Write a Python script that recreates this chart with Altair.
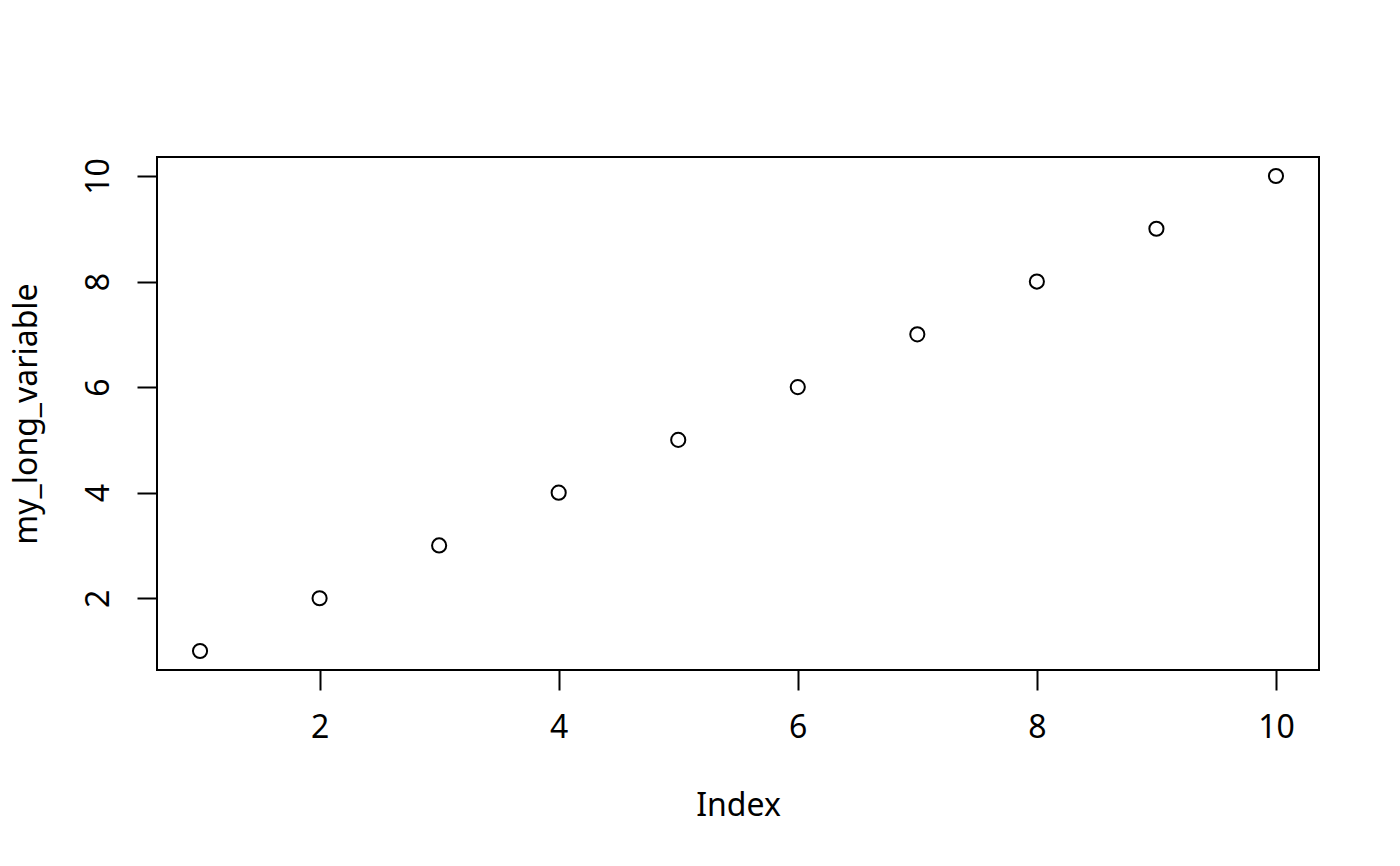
import pandas as pd
import altair as alt

# values as plotted
index = [1, 2, 3, 4, 5, 6, 7, 8, 9, 10]
my_long_variable = [1, 2, 3, 4, 5, 6, 7, 8, 9, 10]
tick_values = [2, 4, 6, 8, 10]

df = pd.DataFrame({'Index': index, 'my_long_variable': my_long_variable})

font = 'Noto Sans'
W, H = 1162, 513

points = alt.Chart(df).mark_point(
    shape='circle', filled=False, color='black', size=200, strokeWidth=2, opacity=1
).encode(
    x=alt.X('Index:Q',
            scale=alt.Scale(domain=[0.64, 10.36], nice=False, zero=False),
            axis=alt.Axis(values=tick_values, grid=False, domain=False,
                          tickSize=20, tickWidth=2, tickColor='black',
                          labelFont=font, labelFontSize=32, labelColor='black',
                          labelPadding=37, labelBaseline='middle',
                          title='Index', titleFont=font, titleFontSize=32,
                          titleFontWeight='normal', titleColor='black',
                          titleBaseline='middle', titleY=135, titleX=W / 2)),
    y=alt.Y('my_long_variable:Q',
            scale=alt.Scale(domain=[0.64, 10.36], nice=False, zero=False),
            axis=alt.Axis(values=tick_values, grid=False, domain=False,
                          tickSize=20, tickWidth=2, tickColor='black',
                          labelFont=font, labelFontSize=32, labelColor='black',
                          labelAngle=270, labelAlign='center', labelBaseline='middle',
                          labelPadding=39,
                          title='my_long_variable', titleFont=font, titleFontSize=32,
                          titleFontWeight='normal', titleColor='black',
                          titleAngle=270, titleAlign='center', titleBaseline='middle',
                          titleX=-131, titleY=H / 2))
)

chart = points.properties(
    width=W, height=H,
    autosize=alt.AutoSizeParams(type='none'),
    padding={'left': 149, 'top': 149, 'right': 73, 'bottom': 180}
).configure_view(stroke='black', strokeWidth=2)

chart.save("out.html", embed_options={"renderer": "svg", "actions": False})
